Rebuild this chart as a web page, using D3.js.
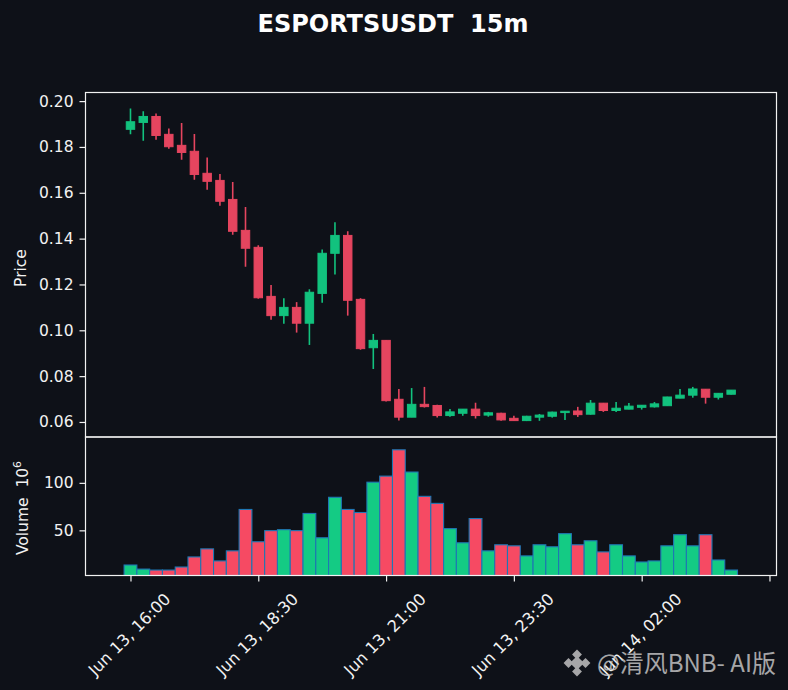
<!DOCTYPE html>
<html><head><meta charset="utf-8">
<script src="https://cdn.jsdelivr.net/npm/d3@7/dist/d3.min.js"></script>
<style>
html,body{margin:0;padding:0;background:#0e1118;}
svg{display:block;}
text{white-space:pre;}
</style></head>
<body>
<svg id="chart" width="788" height="690"></svg>
<script>
// ---- data (15m candles, ESPORTSUSDT) ----
const startTime = "2025-06-13T16:00";
const opens  = [.1877,.1907,.1933,.1855,.1807,.1781,.1685,.1654,.1571,.1436,.1362,.1148,.1064,.1100,.1031,.1161,.1336,.1414,.1135,.0924,.0956,.0699,.0621,.0677,.0672,.0628,.0638,.0656,.0630,.0638,.0616,.0606,.0621,.0625,.0641,.0648,.0634,.0682,.0650,.0656,.0664,.0666,.0671,.0704,.0717,.0743,.0708,.0721];
const highs  = [.1968,.1956,.1946,.1881,.1904,.1856,.1754,.1682,.1647,.1538,.1371,.1198,.1140,.1123,.1179,.1353,.1471,.1432,.1140,.0984,.0958,.0744,.0748,.0753,.0675,.0657,.0656,.0684,.0644,.0640,.0627,.0627,.0635,.0645,.0648,.0666,.0696,.0683,.0687,.0683,.0674,.0687,.0710,.0744,.0753,.0744,.0726,.0740];
const lows   = [.1855,.1827,.1831,.1792,.1744,.1657,.1613,.1543,.1417,.1277,.1138,.1046,.1029,.0990,.0936,.1120,.1243,.1064,.0915,.0831,.0689,.0606,.0621,.0663,.0619,.0623,.0627,.0615,.0623,.0605,.0606,.0604,.0605,.0619,.0609,.0622,.0632,.0644,.0644,.0655,.0654,.0663,.0670,.0703,.0706,.0680,.0698,.0720];
const closes = [.1910,.1933,.1850,.1801,.1776,.1680,.1650,.1563,.1432,.1358,.1142,.1064,.1100,.1031,.1166,.1336,.1414,.1131,.0920,.0956,.0693,.0621,.0677,.0667,.0628,.0644,.0656,.0628,.0640,.0609,.0606,.0625,.0630,.0643,.0647,.0632,.0682,.0650,.0660,.0669,.0673,.0679,.0709,.0717,.0744,.0708,.0725,.0739];
const volumes = [13.5,9.2,8.2,8.2,11.4,22.0,30.5,17.8,28.4,72.0,38.0,49.7,50.7,49.7,67.8,42.2,84.8,72.0,68.8,100.7,107.1,134.8,111.4,85.8,78.4,51.8,36.9,62.4,28.4,34.8,33.7,23.1,34.8,32.7,46.5,34.8,39.0,27.3,34.8,23.1,16.7,17.8,33.7,45.4,33.7,45.4,18.8,8.2];
const priceTicks = [0.06,0.08,0.10,0.12,0.14,0.16,0.18,0.20];
const volumeTicks = [50,100];
const xTickIndex = [0,10,20,30,40,50];
const xTickLabels = ["Jun 13, 16:00","Jun 13, 18:30","Jun 13, 21:00","Jun 13, 23:30","Jun 14, 02:00",""];
const title = "ESPORTSUSDT  15m";
const watermark = "@清风BNB- AI版";

// ---- styles ----
const BG = "#0e1118", FG = "#f2f2f2";
const UP = "#12c27e", DOWN = "#e5455f";
const VUP = "#14cb84", VDOWN = "#f64a63", VEDGE = "#1f77b4";
const FONT = "DejaVu Sans, sans-serif";

const svg = d3.select("#chart");
svg.append("rect").attr("width",788).attr("height",690).attr("fill",BG);

const L = 85.5, R = 776.5, T = 92.5, MID = 437, B = 575.5;
const n = closes.length;
const x = d3.scaleLinear().domain([-3.52, 50.55]).range([L, R]);
const step = x(1) - x(0);

const lo = d3.min(lows), hi = d3.max(highs), pad = (hi - lo) * 0.051;
const y = d3.scaleLinear().domain([lo - pad, hi + pad]).range([MID, T]);
const yv = d3.scaleLinear().domain([0.3 * d3.min(volumes), 1.1 * d3.max(volumes)]).range([B, MID]);

const idx = d3.range(n);
const isUp = i => closes[i] >= opens[i];

// clip paths
const defs = svg.append("defs");
defs.append("clipPath").attr("id","cp").append("rect").attr("x",L).attr("y",T).attr("width",R-L).attr("height",MID-T);
defs.append("clipPath").attr("id","cv").append("rect").attr("x",L).attr("y",MID).attr("width",R-L).attr("height",B-MID);

// candles
const gc = svg.append("g").attr("clip-path","url(#cp)");
gc.selectAll("line.wick").data(idx).join("line")
  .attr("x1",i=>x(i)).attr("x2",i=>x(i))
  .attr("y1",i=>y(highs[i])).attr("y2",i=>y(lows[i]))
  .attr("stroke",i=>isUp(i)?UP:DOWN).attr("stroke-width",1.6);
const bw = step * 0.66;
gc.selectAll("rect.body").data(idx).join("rect")
  .attr("x",i=>x(i)-bw/2).attr("width",bw)
  .attr("y",i=>y(Math.max(opens[i],closes[i])))
  .attr("height",i=>Math.max(0.8, Math.abs(y(opens[i])-y(closes[i]))))
  .attr("fill",i=>isUp(i)?UP:DOWN)
  .attr("stroke",i=>isUp(i)?UP:DOWN).attr("stroke-width",1);

// volume
const gv = svg.append("g").attr("clip-path","url(#cv)");
gv.selectAll("rect").data(idx).join("rect")
  .attr("x",i=>x(i)-step/2).attr("width",step)
  .attr("y",i=>yv(volumes[i])).attr("height",i=>B-yv(volumes[i]))
  .attr("fill",i=>isUp(i)?VUP:VDOWN)
  .attr("stroke",VEDGE).attr("stroke-width",1.1);

// frames
const frame = (y0,y1)=>svg.append("rect").attr("x",L).attr("y",y0).attr("width",R-L).attr("height",y1-y0)
  .attr("fill","none").attr("stroke",FG).attr("stroke-width",1.2);
frame(T,MID); frame(MID,B);

// axes
const ya = d3.axisLeft(y).tickValues(priceTicks).tickFormat(d3.format(".2f")).tickSize(6).tickPadding(6);
const ga = svg.append("g").attr("transform",`translate(${L},0)`).call(ya);
const yva = d3.axisLeft(yv).tickValues(volumeTicks).tickFormat(d3.format("d")).tickSize(6).tickPadding(6);
const gva = svg.append("g").attr("transform",`translate(${L},0)`).call(yva);
const xa = d3.axisBottom(x).tickValues(xTickIndex).tickFormat(()=>"").tickSize(6);
const gxa = svg.append("g").attr("transform",`translate(0,${B})`).call(xa);
[ga,gva,gxa].forEach(g=>{
  g.select(".domain").remove();
  g.selectAll(".tick line").attr("stroke",FG).attr("stroke-width",1.2);
  g.selectAll(".tick text").attr("fill",FG).attr("font-family",FONT).attr("font-size",15.5);
});

// rotated x labels
svg.append("g").selectAll("text").data(xTickIndex.map((d,k)=>({d,k})).filter(o=>xTickLabels[o.k]!==""))
  .join("text")
  .attr("transform",o=>`translate(${x(o.d)-1},634.5) rotate(-45)`)
  .attr("text-anchor","middle").attr("dominant-baseline","central")
  .attr("fill",FG).attr("font-family",FONT).attr("font-size",16.2)
  .text(o=>xTickLabels[o.k]);

// axis titles
svg.append("text").attr("transform","translate(26,268) rotate(-90)")
  .attr("text-anchor","middle").attr("fill",FG).attr("font-family",FONT).attr("font-size",15.5).text("Price");
const vt = svg.append("text").attr("transform","translate(28,508) rotate(-90)")
  .attr("text-anchor","middle").attr("fill",FG).attr("font-family",FONT).attr("font-size",15.5);
vt.append("tspan").text("Volume  10");
vt.append("tspan").attr("dy",-7).attr("font-size",11).text("6");

// title
svg.append("text").attr("x",393).attr("y",31.5).attr("text-anchor","middle")
  .attr("fill","#ffffff").attr("font-family",FONT).attr("font-weight","bold").attr("font-size",24).text(title);

// watermark
const wm = svg.append("g").attr("opacity",0.8).attr("fill","#cccccc");
const lg = wm.append("g").attr("transform","translate(577,663)");
[[0,0,5],[-8.5,0,3.5],[8.5,0,3.5],[0,-8.5,3.5],[0,8.5,3.5]].forEach(([cx,cy,s])=>{
  lg.append("rect").attr("x",cx-s).attr("y",cy-s).attr("width",2*s).attr("height",2*s)
    .attr("transform",`rotate(45,${cx},${cy})`);
});
wm.append("text").attr("x",597).attr("y",671.5).attr("font-family","Noto Sans CJK SC, sans-serif")
  .attr("font-size",24).text(watermark);
</script>
</body></html>
